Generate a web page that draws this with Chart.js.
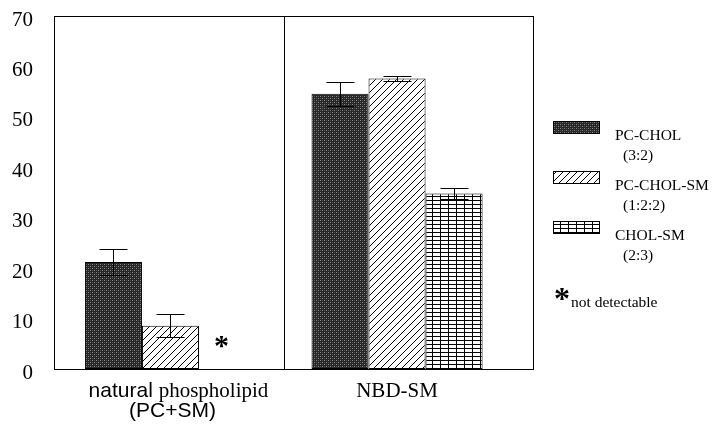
<!DOCTYPE html>
<html>
<head>
<meta charset="utf-8">
<script src="https://cdn.jsdelivr.net/npm/chart.js@4.4.1/dist/chart.umd.min.js"></script>
<style>
  html, body { margin: 0; padding: 0; background: #fff; }
  #wrap { width: 713px; height: 425px; }
</style>
</head>
<body>
<div id="wrap"><canvas id="c" width="713" height="425"></canvas></div>
<script>
// ---- data ----
const categories = [["natural", "phospholipid"], ["NBD-SM"]];
const categorySub = ["(PC+SM)", ""];
const seriesNames = ["PC-CHOL", "PC-CHOL-SM", "CHOL-SM"];
const seriesRatios = ["(3:2)", "(1:2:2)", "(2:3)"];
const pcChol = [21.2, 54.6];
const pcCholErr = [2.6, 2.4];
const pcCholSm = [8.6, 57.6];
const pcCholSmErr = [2.3, 0.5];
const cholSm = [null, 34.8];
const cholSmErr = [null, 1.1];
const yTicks = [0, 10, 20, 30, 40, 50, 60, 70];
const notDetectableNote = "not detectable";

const SERIF = "'Liberation Serif', 'Times New Roman', serif";
const SANS = "'Liberation Sans', Arial, sans-serif";

// ---- patterns ----
function makePattern(w, h, draw) {
  const c = document.createElement('canvas');
  c.width = w; c.height = h;
  const g = c.getContext('2d');
  draw(g, w, h);
  return document.getElementById('c').getContext('2d').createPattern(c, 'repeat');
}
const stipple = makePattern(4, 4, (g) => {
  g.fillStyle = '#262626'; g.fillRect(0, 0, 4, 4);
  g.fillStyle = '#8a8a8a';
  g.fillRect(0, 0, 1, 1); g.fillRect(2, 2, 1, 1);
  g.fillStyle = '#555';
  g.fillRect(2, 0, 1, 1); g.fillRect(0, 2, 1, 1);
});
const diag = makePattern(7, 7, (g) => {
  g.fillStyle = '#fff'; g.fillRect(0, 0, 7, 7);
  g.strokeStyle = '#000'; g.lineWidth = 1;
  g.beginPath();
  g.moveTo(-1, 8); g.lineTo(8, -1);
  g.moveTo(-8, 8); g.lineTo(1, -1);
  g.moveTo(6, 8); g.lineTo(15, -1);
  g.stroke();
});
const gridPat = makePattern(8, 4, (g) => {
  g.fillStyle = '#fff'; g.fillRect(0, 0, 8, 4);
  g.fillStyle = '#000';
  g.fillRect(0, 0, 8, 1);
  g.fillRect(0, 0, 1, 4);
});

function toPoints(arr) {
  const out = [];
  arr.forEach((v, i) => { if (v !== null) out.push({ x: i, y: v }); });
  return out;
}

const errs = [pcCholErr, pcCholSmErr, cholSmErr];

// ---- plugins ----
const boxPlugin = {
  id: 'box',
  afterDatasetsDraw(chart) {
    const { ctx, chartArea: a, scales } = chart;
    ctx.save();
    // error bars
    ctx.strokeStyle = '#000'; ctx.lineWidth = 1;
    chart.data.datasets.forEach((ds, di) => {
      const meta = chart.getDatasetMeta(di);
      meta.data.forEach((el, j) => {
        const pt = ds.data[j];
        const e = errs[di][pt.x];
        if (e == null) return;
        const x = Math.round(el.x) + 0.5;
        const yt = Math.round(scales.y.getPixelForValue(pt.y + e)) + 0.5;
        const yb = Math.round(scales.y.getPixelForValue(pt.y - e)) + 0.5;
        ctx.beginPath();
        ctx.moveTo(x, yt); ctx.lineTo(x, yb);
        ctx.moveTo(x - 14, yt); ctx.lineTo(x + 14, yt);
        ctx.moveTo(x - 14, yb); ctx.lineTo(x + 14, yb);
        ctx.stroke();
      });
    });
    // frame
    ctx.strokeStyle = '#000'; ctx.lineWidth = 1;
    ctx.strokeRect(Math.round(a.left) + 0.5, Math.round(a.top) + 0.5,
      Math.round(a.right - a.left), Math.round(a.bottom - a.top));
    // divider
    const xd = Math.round(scales.x.getPixelForValue(0.5)) + 0.5;
    ctx.beginPath(); ctx.moveTo(xd, a.top); ctx.lineTo(xd, a.bottom); ctx.stroke();

    // asterisk where third series is not detectable
    cholSm.forEach((v, i) => {
      if (v !== null) return;
      const m1 = chart.getDatasetMeta(1);
      const el = m1.data.find((d, k) => chart.data.datasets[1].data[k].x === i);
      const x = el.x + el.width - 6;
      ctx.fillStyle = '#000';
      ctx.font = 'bold 30px ' + SERIF;
      ctx.textAlign = 'center'; ctx.textBaseline = 'middle';
      ctx.fillText('*', x, scales.y.getPixelForValue(4.3));
    });

    // x labels (mixed fonts)
    ctx.fillStyle = '#000';
    ctx.textBaseline = 'middle';
    categories.forEach((parts, i) => {
      const cx = scales.x.getPixelForValue(i);
      const y1 = a.bottom + 22;
      if (parts.length === 2) {
        ctx.font = '21px ' + SANS;
        const w1 = ctx.measureText(parts[0] + ' ').width;
        ctx.font = '21px ' + SERIF;
        const w2 = ctx.measureText(parts[1]).width;
        let x0 = cx + 8 - (w1 + w2) / 2;
        ctx.textAlign = 'left';
        ctx.font = '21px ' + SANS;
        ctx.fillText(parts[0] + ' ', x0, y1);
        ctx.font = '21px ' + SERIF;
        ctx.fillText(parts[1], x0 + w1, y1);
      } else {
        ctx.font = '21px ' + SERIF;
        ctx.textAlign = 'center';
        ctx.fillText(parts[0], cx, y1);
      }
      if (categorySub[i]) {
        ctx.font = '21px ' + SANS;
        ctx.textAlign = 'center';
        ctx.fillText(categorySub[i], cx + 2, y1 + 20);
      }
    });

    // legend
    const lx = a.right + 20;
    const boxTops = [121, 171, 221];
    chart.data.datasets.forEach((ds, di) => {
      const top = boxTops[di];
      ctx.fillStyle = ds.backgroundColor;
      ctx.fillRect(lx, top, 46, 12);
      ctx.strokeStyle = '#000';
      ctx.strokeRect(lx + 0.5, top + 0.5, 46, 12);
      ctx.fillStyle = '#000';
      ctx.font = '15.5px ' + SERIF;
      ctx.textAlign = 'left'; ctx.textBaseline = 'middle';
      ctx.fillText(seriesNames[di], lx + 62, top + 15);
      ctx.fillText(seriesRatios[di], lx + 70, top + 35);
    });
    ctx.font = 'bold 32px ' + SERIF;
    ctx.fillText('*', lx + 1, 301);
    ctx.font = '15.5px ' + SERIF;
    ctx.fillText(notDetectableNote, lx + 18, 303);
    ctx.restore();
  }
};

new Chart(document.getElementById('c'), {
  type: 'bar',
  data: {
    datasets: [
      { label: seriesNames[0], data: toPoints(pcChol), backgroundColor: stipple },
      { label: seriesNames[1], data: toPoints(pcCholSm), backgroundColor: diag },
      { label: seriesNames[2], data: toPoints(cholSm), backgroundColor: gridPat }
    ].map(d => Object.assign(d, { borderColor: '#000', borderWidth: 1, borderSkipped: false,
      categoryPercentage: 0.755, barPercentage: 1.0 }))
  },
  options: {
    responsive: false,
    animation: false,
    layout: { padding: { left: 0, right: 180, top: 16, bottom: 56 } },
    plugins: { legend: { display: false }, tooltip: { enabled: false } },
    scales: {
      x: {
        type: 'linear', min: -0.514, max: 1.6, display: false, offset: false,
        grid: { offset: false },
        afterBuildTicks: (s) => { s.ticks = [{ value: 0 }, { value: 1 }]; }
      },
      y: {
        min: 0, max: 70,
        afterBuildTicks: (s) => { s.ticks = yTicks.map(v => ({ value: v })); },
        afterFit: (s) => { s.width = 54; s.paddingTop = 0; s.paddingBottom = 0; },
        grid: { display: false, drawTicks: false },
        border: { display: false },
        ticks: { color: '#000', font: { family: SERIF, size: 21 }, padding: 21, labelOffset: 4 }
      }
    }
  },
  plugins: [boxPlugin]
});
</script>
</body>
</html>
